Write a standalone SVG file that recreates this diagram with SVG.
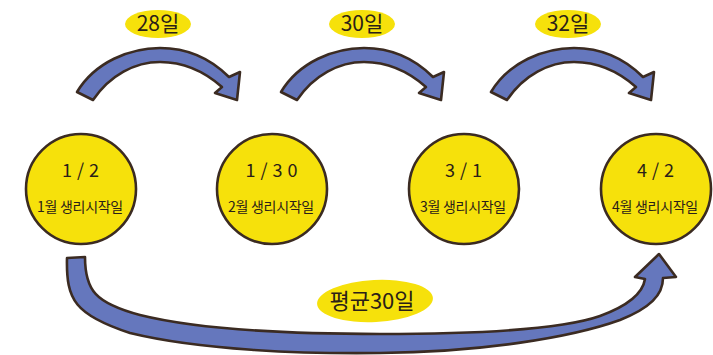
<svg xmlns="http://www.w3.org/2000/svg" width="713" height="355" viewBox="0 0 713 355">
  <style>
    .day { fill: #f6e10b; stroke: #3b2b22; stroke-width: 2.6; }
    .tag { fill: #f6e10b; stroke: none; }
    .arrow { fill: #6577bd; stroke: #3b2b22; stroke-width: 2.6; stroke-linejoin: round; }
    text { font-family: "Noto Sans CJK KR", "Noto Sans", sans-serif; fill: #2a2018; text-anchor: middle; }
    .date { font-size: 18px; letter-spacing: 5px; }
    .desc { font-size: 14px; letter-spacing: -0.3px; }
    .gap { font-size: 21px; }
    .avg { font-size: 22px; }
  </style>
  <defs>
    <path id="hop" d="M77,92 C95,62 130,48 160,48 C190,48 212,60 229,77 L240,72 L237,100 L215,93 L222,87 C205,72 185,62 160,62 C135,62 110,75 93,100 Z"/>
  </defs>

  <!-- connectors -->
  <g id="connectors">
    <use href="#hop" class="arrow"/>
    <use href="#hop" class="arrow" transform="translate(204,0)"/>
    <use href="#hop" class="arrow" transform="translate(414,0)"/>
    <path class="arrow" d="M67,258 C66,300 75,315 130,333 C200,350 300,354 380,353 C480,352 570,338 620,320 C650,308 663,295 663,278 L676,277 L659,254 L635,277 L645,279 C643,292 630,305 600,316 C560,330 480,334 380,334 C300,334 200,330 140,315 C95,303 85,290 85,257 Z"/>
  </g>

  <!-- interval labels -->
  <g id="gap-28">
    <ellipse class="tag" cx="158" cy="24" rx="33" ry="14"/>
    <text class="gap" x="158" y="31">28일</text>
  </g>
  <g id="gap-30">
    <ellipse class="tag" cx="362" cy="24" rx="33" ry="14"/>
    <text class="gap" x="362" y="31">30일</text>
  </g>
  <g id="gap-32">
    <ellipse class="tag" cx="568" cy="24" rx="33" ry="14"/>
    <text class="gap" x="568" y="31">32일</text>
  </g>
  <g id="average">
    <ellipse class="tag" cx="375" cy="301" rx="58" ry="21" transform="rotate(-3 375 301)"/>
    <text class="avg" x="372" y="309">평균30일</text>
  </g>

  <!-- monthly start dates -->
  <g id="jan">
    <circle class="day" cx="81" cy="189" r="55"/>
    <text class="date" x="83" y="177">1/2</text>
    <text class="desc" x="80" y="212">1월 생리시작일</text>
  </g>
  <g id="feb">
    <circle class="day" cx="272" cy="189" r="55"/>
    <text class="date" x="274" y="177">1/30</text>
    <text class="desc" x="271" y="212">2월 생리시작일</text>
  </g>
  <g id="mar">
    <circle class="day" cx="464" cy="189" r="55"/>
    <text class="date" x="466" y="177">3/1</text>
    <text class="desc" x="463" y="212">3월 생리시작일</text>
  </g>
  <g id="apr">
    <circle class="day" cx="656" cy="189" r="55"/>
    <text class="date" x="658" y="177">4/2</text>
    <text class="desc" x="655" y="212">4월 생리시작일</text>
  </g>
</svg>
